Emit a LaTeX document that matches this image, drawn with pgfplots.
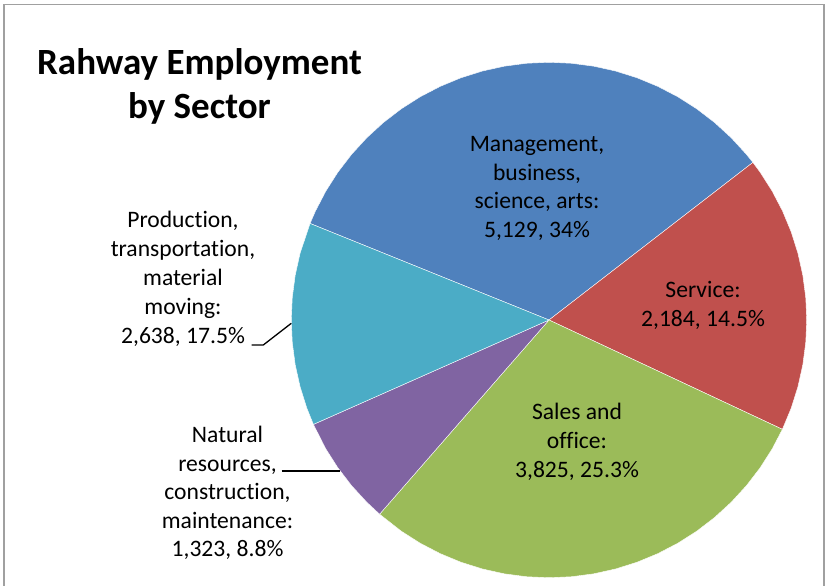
\documentclass[border=0pt]{standalone}
\usepackage{pgfplots}
\pgfplotsset{compat=1.18}
\usepackage{fontspec}
\setmainfont{Carlito}[Ligatures={NoCommon,NoContextual}]
\definecolor{cMgmt}{HTML}{4F81BD}
\definecolor{cServ}{HTML}{C0504D}
\definecolor{cSales}{HTML}{9BBB59}
\definecolor{cNat}{HTML}{8064A2}
\definecolor{cProd}{HTML}{4BACC6}
\definecolor{frame}{HTML}{A0A0A0}
\newcommand{\lbl}[3]{\node[anchor=base,inner sep=0pt] at (#1,#2) {#3};}
\begin{document}
\begin{tikzpicture}
\useasboundingbox (0,0) rectangle (825bp,586bp);
\begin{axis}[
  at={(0,0)}, anchor=south west,
  scale only axis, width=825bp, height=586bp,
  xmin=-2.1304, xmax=1.0710, ymin=-1.0322, ymax=1.2418,
  hide axis, clip=false,
  every axis plot/.append style={data cs=polar, draw=white, line width=0.4bp},
]
% slice outlines: (angle in degrees, radius) around the pie centre
\addplot[fill=cMgmt] coordinates {(0,0) (158,1) (155,1) (150,1) (145,1) (140,1) (135,1) (130,1) (125,1) (120,1) (115,1) (110,1) (105,1) (100,1) (95,1) (90,1) (85,1) (80,1) (75,1) (70,1) (65,1) (60,1) (55,1) (50,1) (45,1) (40,1) (37.7,1) (0,0)};
\addplot[fill=cServ] coordinates {(0,0) (37.7,1) (35,1) (30,1) (25,1) (20,1) (15,1) (10,1) (5,1) (0,1) (-5,1) (-10,1) (-15,1) (-20,1) (-25.1,1) (0,0)};
\addplot[fill=cSales] coordinates {(0,0) (-25.1,1) (-30,1) (-35,1) (-40,1) (-45,1) (-50,1) (-55,1) (-60,1) (-65,1) (-70,1) (-75,1) (-80,1) (-85,1) (-90,1) (-95,1) (-100,1) (-105,1) (-110,1) (-115,1) (-120,1) (-125,1) (-131.1,1) (0,0)};
\addplot[fill=cNat] coordinates {(0,0) (-131.1,1) (-135,1) (-140,1) (-145,1) (-150,1) (-156.1,1) (0,0)};
\addplot[fill=cProd] coordinates {(0,0) (-156.1,1) (-160,1) (-165,1) (-170,1) (-175,1) (-180,1) (-185,1) (-190,1) (-195,1) (-202,1) (0,0)};
\end{axis}
\begin{scope}[shift={(0,586bp)}, x=1bp, y=-1bp]
  \draw[frame, line width=1.5bp] (4,600) -- (4,4.5) -- (824,4.5) -- (824,600);
  % title
  \begin{scope}[font=\fontsize{37bp}{44bp}\selectfont\bfseries]
    \lbl{199.5}{75}{Rahway Employment}
    \lbl{199.5}{119}{by Sector}
  \end{scope}
  \begin{scope}[font=\fontsize{23.6bp}{28.5bp}\selectfont]
    \lbl{537}{152}{Management,}
    \lbl{537}{181}{business,}
    \lbl{537}{209}{science, arts:}
    \lbl{537}{238}{5,129, 34\%}
    \lbl{703}{298}{Service:}
    \lbl{703}{327}{2,184, 14.5\%}
    \lbl{577}{420}{Sales and}
    \lbl{577}{449}{office:}
    \lbl{577}{478}{3,825, 25.3\%}
    \lbl{183}{228}{Production,}
    \lbl{183}{257}{transportation,}
    \lbl{183}{286}{material}
    \lbl{183}{315}{moving:}
    \lbl{183}{344}{2,638, 17.5\%}
    \lbl{227.5}{443}{Natural}
    \lbl{227.5}{472}{resources,}
    \lbl{227.5}{500}{construction,}
    \lbl{227.5}{528.5}{maintenance:}
    \lbl{227.5}{557}{1,323, 8.8\%}
  \end{scope}
  \draw[black, line width=1.3bp] (251.7,345) -- (263.3,345) -- (291.3,323.3);
  \draw[black, line width=1.3bp] (281.7,471) -- (340.2,471);
\end{scope}
\end{tikzpicture}
\end{document}
